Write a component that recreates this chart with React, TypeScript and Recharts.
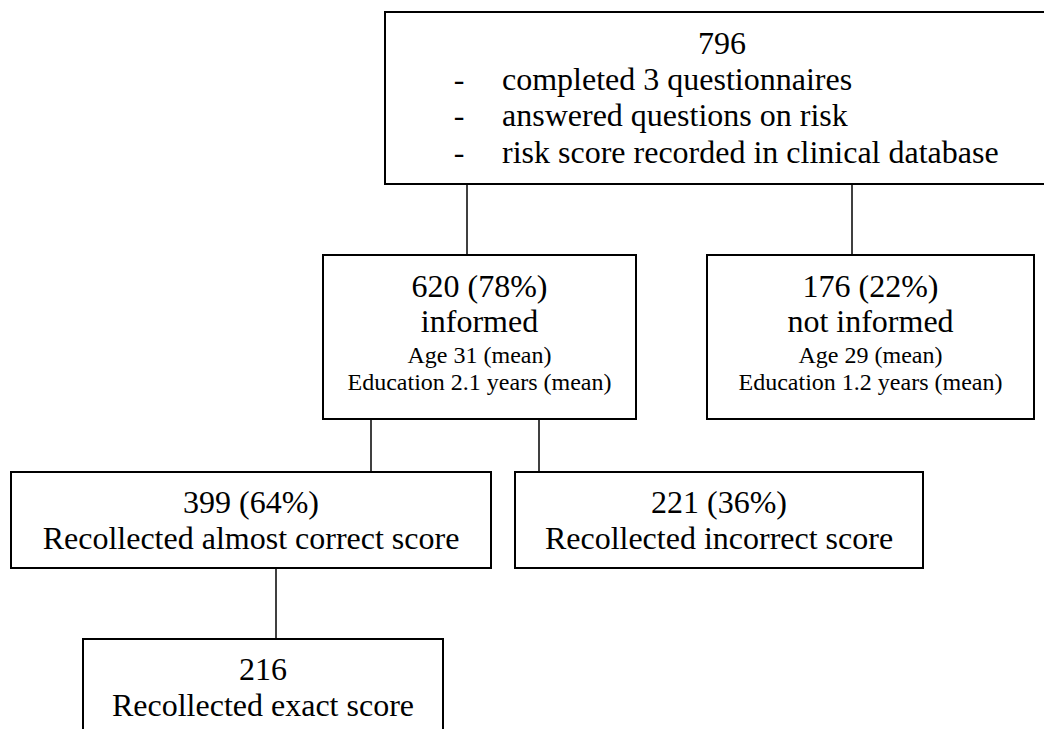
import React from 'react';
import { ScatterChart, Scatter, XAxis, YAxis, ReferenceArea, ReferenceLine } from 'recharts';

// ---- content ----
const counts = ['796', '620 (78%)', '176 (22%)', '399 (64%)', '221 (36%)', '216'];
const groupLabels = ['', 'informed', 'not informed', 'Recollected almost correct score', 'Recollected incorrect score', 'Recollected exact score'];
const inclusionCriteria = ['completed 3 questionnaires', 'answered questions on risk', 'risk score recorded in clinical database'];
const meanAges = ['', 'Age 31 (mean)', 'Age 29 (mean)'];
const meanEducation = ['', 'Education 2.1 years (mean)', 'Education 1.2 years (mean)'];

// ---- layout (diagram coordinates) ----
const W = 1044;
const H = 729;
const CW = 1070; // drawing canvas (wider/taller than the visible page, cropped by the wrapper)
const CH = 770;
const boxRects = [
  [385, 1056, 12, 184],
  [323, 636, 255, 419],
  [707, 1034, 255, 419],
  [11, 491, 472, 568],
  [515, 923, 472, 568],
  [83, 443, 639, 762],
];
const links = [[0, 1], [0, 2], [1, 3], [1, 4], [3, 5]];
const linkX = [467, 852, 371, 539, 276];

const FONT = '"Liberation Serif", Tinos, "Times New Roman", Times, serif';
const BIG = 32;
const SMALL = 24;

type TextItem = { x: number; y: number; text: string; size: number; anchor: string };

const textItems: TextItem[] = [];
boxRects.forEach((r, i) => {
  const [x1, x2, top] = r;
  const cx = i === 0 ? 722 : (x1 + x2) / 2;
  if (i === 0) {
    textItems.push({ x: cx, y: top + 42, text: counts[i], size: BIG, anchor: 'middle' });
    inclusionCriteria.forEach((c, k) => {
      const y = top + 77.5 + k * 36.5;
      textItems.push({ x: 459, y, text: '-', size: BIG, anchor: 'middle' });
      textItems.push({ x: 502, y, text: c, size: BIG, anchor: 'start' });
    });
  } else if (i <= 2) {
    textItems.push({ x: cx, y: top + 42, text: counts[i], size: BIG, anchor: 'middle' });
    textItems.push({ x: cx, y: top + 77, text: groupLabels[i], size: BIG, anchor: 'middle' });
    textItems.push({ x: cx, y: top + 108, text: meanAges[i], size: SMALL, anchor: 'middle' });
    textItems.push({ x: cx, y: top + 135, text: meanEducation[i], size: SMALL, anchor: 'middle' });
  } else {
    textItems.push({ x: cx, y: top + 41, text: counts[i], size: BIG, anchor: 'middle' });
    textItems.push({ x: cx, y: top + 77, text: groupLabels[i], size: BIG, anchor: 'middle' });
  }
});

const TextMark = (props: any) => {
  const { cx, cy, payload } = props;
  return (
    <text
      x={cx}
      y={cy}
      textAnchor={payload.anchor}
      fill="#000"
      style={{ fontFamily: FONT, fontSize: payload.size + 'px' }}
    >
      {payload.text}
    </text>
  );
};

export default function App() {
  return (
    <div
      style={{
        position: 'absolute',
        left: 0,
        top: 0,
        width: W,
        height: H,
        overflow: 'hidden',
        background: '#fff',
        fontFamily: FONT,
      }}
    >
      <ScatterChart width={CW} height={CH} margin={{ top: 0, right: 0, bottom: 0, left: 0 }}>
        <XAxis dataKey="x" type="number" domain={[0, CW]} hide allowDataOverflow />
        <YAxis dataKey="y" type="number" domain={[0, CH]} reversed hide allowDataOverflow />
        {links.map(([from, to], k) => (
          <ReferenceLine
            key={'l' + k}
            segment={[
              { x: linkX[k], y: boxRects[from][3] },
              { x: linkX[k], y: boxRects[to][2] },
            ]}
            stroke="#000"
            strokeWidth={1.5}
            ifOverflow="visible"
          />
        ))}
        {boxRects.map((r, i) => (
          <ReferenceArea
            key={'b' + i}
            x1={r[0]}
            x2={r[1]}
            y1={r[2]}
            y2={r[3]}
            fill="#fff"
            fillOpacity={1}
            stroke="#000"
            strokeWidth={2}
            ifOverflow="visible"
          />
        ))}
        <Scatter data={textItems} shape={TextMark} isAnimationActive={false} />
      </ScatterChart>
    </div>
  );
}
